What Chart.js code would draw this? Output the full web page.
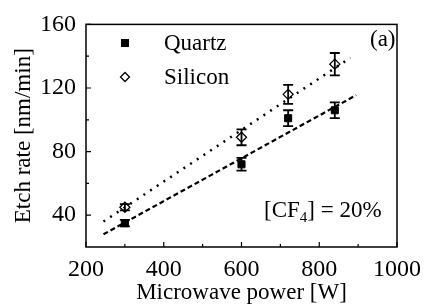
<!DOCTYPE html>
<html><head><meta charset="utf-8">
<script src="https://cdn.jsdelivr.net/npm/chart.js@4"></script>
<style>html,body{margin:0;padding:0;background:#fff}#w{width:429px;height:307px}</style>
</head><body><div id="w"><canvas id="c"></canvas></div>
<script>
const powerW = [300, 600, 720, 840];
const quartzRate = [35, 72, 101, 106];
const quartzErr = [2, 4, 5, 5];
const siliconRate = [45, 89, 116, 135];
const siliconErr = [2, 5, 6, 7];
const quartzFitX = [245, 895];
const quartzFitY = [28, 115.5];
const siliconFitX = [245, 880];
const siliconFitY = [36, 139];
const xTicks = [200, 400, 600, 800, 1000];
const yTicks = [40, 80, 120, 160];
const xMinor = [300, 500, 700, 900];
const yMinor = [60, 100, 140];
const seriesNames = ['Quartz', 'Silicon'];
const FONT = '"Liberation Serif", "Times New Roman", serif';

const pts = (xs, ys) => xs.map((x, i) => ({x, y: ys[i]}));

const decor = {
  id: 'decor',
  afterDatasetsDraw(chart) {
    const {ctx, chartArea: a, scales: {x, y}} = chart;
    ctx.save();
    // error bars
    ctx.strokeStyle = '#000'; ctx.lineWidth = 1.8;
    [[quartzRate, quartzErr], [siliconRate, siliconErr]].forEach(([v, e]) => {
      powerW.forEach((p, i) => {
        const px = x.getPixelForValue(p);
        const t = y.getPixelForValue(v[i] + e[i]);
        const b = y.getPixelForValue(v[i] - e[i]);
        ctx.beginPath();
        ctx.moveTo(px, t); ctx.lineTo(px, b);
        ctx.moveTo(px - 5, t); ctx.lineTo(px + 5, t);
        ctx.moveTo(px - 5, b); ctx.lineTo(px + 5, b);
        ctx.stroke();
      });
    });
    // frame
    ctx.lineWidth = 1.5;
    ctx.strokeRect(a.left, a.top, a.right - a.left, a.bottom - a.top);
    // ticks (inward)
    ctx.lineWidth = 1.2;
    ctx.beginPath();
    xTicks.forEach(v => { const p = x.getPixelForValue(v); ctx.moveTo(p, a.bottom); ctx.lineTo(p, a.bottom - 5); });
    xMinor.forEach(v => { const p = x.getPixelForValue(v); ctx.moveTo(p, a.bottom); ctx.lineTo(p, a.bottom - 3); });
    yTicks.forEach(v => { const p = y.getPixelForValue(v); ctx.moveTo(a.left, p); ctx.lineTo(a.left + 5, p); });
    yMinor.forEach(v => { const p = y.getPixelForValue(v); ctx.moveTo(a.left, p); ctx.lineTo(a.left + 3, p); });
    ctx.stroke();
    // legend
    ctx.fillStyle = '#000';
    ctx.font = '23px ' + FONT;
    ctx.textBaseline = 'middle';
    ctx.fillRect(121, 39, 8, 8);
    ctx.fillText(seriesNames[0], 164, 44);
    ctx.beginPath();
    ctx.moveTo(125, 72.5); ctx.lineTo(129.5, 77); ctx.lineTo(125, 81.5); ctx.lineTo(120.5, 77); ctx.closePath();
    ctx.lineWidth = 1.3; ctx.stroke();
    ctx.fillText(seriesNames[1], 164, 78);
    // annotations
    ctx.fillText('(a)', 370, 40);
    ctx.textBaseline = 'alphabetic';
    let cx = 264; const by = 217;
    ctx.fillText('[CF', cx, by); cx += ctx.measureText('[CF').width;
    ctx.font = '15px ' + FONT;
    ctx.fillText('4', cx, by + 5); cx += ctx.measureText('4').width;
    ctx.font = '23px ' + FONT;
    ctx.fillText('] = 20%', cx, by);
    ctx.restore();
  }
};

new Chart(document.getElementById('c'), {
  type: 'scatter',
  data: {
    datasets: [
      {label: 'Quartz fit', type: 'line', data: pts(quartzFitX, quartzFitY), borderColor: '#000', borderWidth: 2.2, borderDash: [5, 3], pointRadius: 0, fill: false},
      {label: 'Silicon fit', type: 'line', data: pts(siliconFitX, siliconFitY), borderColor: '#000', borderWidth: 2.5, borderDash: [2, 6], pointRadius: 0, fill: false},
      {label: seriesNames[0], data: pts(powerW, quartzRate), pointStyle: 'rect', pointRadius: 5, backgroundColor: '#000', borderColor: '#000', borderWidth: 1},
      {label: seriesNames[1], data: pts(powerW, siliconRate), pointStyle: 'rectRot', pointRadius: 5, backgroundColor: '#fff', borderColor: '#000', borderWidth: 1.3}
    ]
  },
  options: {
    responsive: true, maintainAspectRatio: false, animation: false,
    layout: {padding: {top: 17.5, right: 23, left: 0, bottom: 0}},
    plugins: {legend: {display: false}, tooltip: {enabled: false}},
    scales: {
      x: {
        type: 'linear', min: 200, max: 1000,
        afterBuildTicks: s => { s.ticks = xTicks.map(v => ({value: v})); },
        afterFit: s => { s.height = 60; },
        grid: {display: false, drawTicks: false}, border: {display: false},
        ticks: {color: '#000', padding: 8, font: {family: FONT, size: 24}, maxRotation: 0, callback: v => String(v)},
        title: {display: true, text: 'Microwave power [W]', color: '#000', font: {family: FONT, size: 23}, padding: {top: 0, bottom: 0}}
      },
      y: {
        type: 'linear', min: 20, max: 160,
        afterBuildTicks: s => { s.ticks = yTicks.map(v => ({value: v})); },
        afterFit: s => { s.width = 86; },
        grid: {display: false, drawTicks: false}, border: {display: false},
        ticks: {color: '#000', padding: 10, font: {family: FONT, size: 24}, callback: v => String(v)},
        title: {display: true, text: 'Etch rate [nm/min]', color: '#000', font: {family: FONT, size: 23}, padding: {top: 10, bottom: 0}}
      }
    }
  },
  plugins: [decor]
});
</script></body></html>
